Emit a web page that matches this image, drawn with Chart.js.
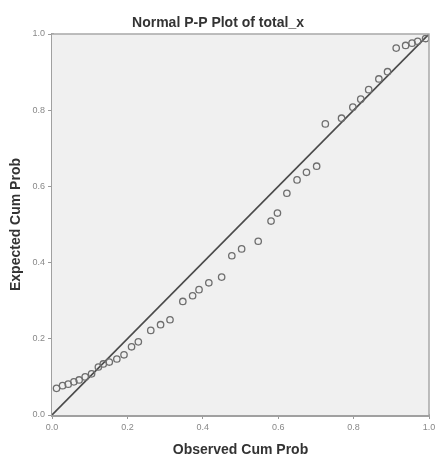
<!DOCTYPE html>
<html>
<head>
<meta charset="utf-8">
<script src="https://cdn.jsdelivr.net/npm/chart.js@4.4.1/dist/chart.umd.min.js"></script>
<style>
  html, body { margin: 0; padding: 0; background: #fff; }
  #wrap { width: 436px; height: 455px; }
</style>
</head>
<body>
<div id="wrap"><canvas id="ppChart" width="436" height="455"></canvas></div>
<script>
// Observed cumulative probabilities (x) and expected ones (y)
const observedCum = [
  0.012, 0.028, 0.043, 0.058, 0.072, 0.088, 0.105, 0.123, 0.136, 0.152,
  0.172, 0.191, 0.211, 0.229, 0.262, 0.288, 0.313, 0.347, 0.373, 0.390,
  0.416, 0.450, 0.477, 0.503, 0.547, 0.581, 0.598, 0.623, 0.650, 0.675,
  0.702, 0.725, 0.768, 0.798, 0.819, 0.840, 0.867, 0.890, 0.913, 0.938,
  0.955, 0.970, 0.991
];
const expectedCum = [
  0.070, 0.077, 0.081, 0.087, 0.092, 0.100, 0.108, 0.126, 0.134, 0.139,
  0.147, 0.158, 0.179, 0.192, 0.222, 0.237, 0.250, 0.298, 0.313, 0.329,
  0.347, 0.362, 0.418, 0.436, 0.456, 0.509, 0.530, 0.582, 0.617, 0.637,
  0.653, 0.764, 0.779, 0.808, 0.829, 0.854, 0.882, 0.901, 0.963, 0.970,
  0.976, 0.981, 0.988
];
const refLineX = [0, 1];
const refLineY = [0, 1];
const axisTicks = [0, 0.2, 0.4, 0.6, 0.8, 1.0];

const points = observedCum.map((x, i) => ({ x: x, y: expectedCum[i] }));
const refLine = refLineX.map((x, i) => ({ x: x, y: refLineY[i] }));

// gray plot background plus thin top/right frame
const plotFrame = {
  id: "plotFrame",
  beforeDatasetsDraw(chart) {
    const a = chart.chartArea;
    const c = chart.ctx;
    c.save();
    c.fillStyle = "#f0f0f0";
    c.fillRect(a.left, a.top, a.right - a.left, a.bottom - a.top);
    c.restore();
  },
  afterDraw(chart) {
    const a = chart.chartArea;
    const c = chart.ctx;
    c.save();
    c.strokeStyle = "#a8a8a8";
    c.lineWidth = 1.5;
    c.beginPath();
    c.moveTo(a.left, a.top);
    c.lineTo(a.right, a.top);
    c.lineTo(a.right, a.bottom);
    c.stroke();
    c.restore();
  }
};

const fam = "'Liberation Sans', Arial, sans-serif";
const tickFont = { family: fam, size: 9 };
const titleFont = { family: fam, size: 14, weight: "bold", lineHeight: 1 };

const ctx = document.getElementById("ppChart").getContext("2d");
new Chart(ctx, {
  type: "scatter",
  data: {
    datasets: [
      {
        label: "Reference",
        data: refLine,
        showLine: true,
        borderColor: "#4a4a4a",
        borderWidth: 1.6,
        pointRadius: 0,
        order: 2
      },
      {
        label: "Points",
        data: points,
        pointRadius: 3.2,
        pointBorderWidth: 1.3,
        pointBorderColor: "#6e6e6e",
        pointBackgroundColor: "rgba(0,0,0,0)",
        order: 1
      }
    ]
  },
  options: {
    responsive: false,
    animation: false,
    devicePixelRatio: 1,
    layout: { padding: { top: 0, right: 0, bottom: 0, left: 0 } },
    plugins: {
      legend: { display: false },
      tooltip: { enabled: false },
      title: {
        display: true,
        text: "Normal P-P Plot of total_x",
        color: "#333",
        font: titleFont,
        padding: { top: 16, bottom: 4 }
      }
    },
    scales: {
      x: {
        type: "linear",
        min: 0,
        max: 1,
        afterBuildTicks: (s) => { s.ticks = axisTicks.map((v) => ({ value: v })); },
        afterFit: (s) => {
          s.height = 40;
          s.paddingLeft = 0;
          s.paddingRight = 7;
        },
        ticks: {
          color: "#888",
          font: tickFont,
          padding: 3,
          maxRotation: 0,
          callback: (v) => Number(v).toFixed(1)
        },
        grid: { drawOnChartArea: false, drawTicks: true, tickLength: 4, color: "#999" },
        border: { display: true, color: "#a0a0a0", width: 3 },
        title: {
          display: true,
          text: "Observed Cum Prob",
          color: "#333",
          font: titleFont,
          padding: { top: 0, bottom: -2 }
        }
      },
      y: {
        type: "linear",
        min: 0,
        max: 1,
        afterBuildTicks: (s) => { s.ticks = axisTicks.map((v) => ({ value: v })); },
        afterFit: (s) => {
          s.width = 52;
          s.paddingTop = 0;
          s.paddingBottom = 0;
        },
        ticks: {
          color: "#888",
          font: tickFont,
          padding: 3,
          callback: (v) => Number(v).toFixed(1)
        },
        grid: { drawOnChartArea: false, drawTicks: true, tickLength: 4, color: "#999" },
        border: { display: true, color: "#a0a0a0", width: 3 },
        title: {
          display: true,
          text: "Expected Cum Prob",
          color: "#333",
          font: titleFont,
          padding: { top: 9.5, bottom: 0 }
        }
      }
    }
  },
  plugins: [plotFrame]
});
</script>
</body>
</html>
